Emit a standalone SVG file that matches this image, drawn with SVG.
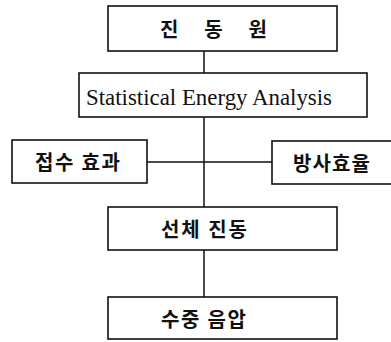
<svg xmlns="http://www.w3.org/2000/svg" width="391" height="342" viewBox="0 0 391 342">
<style>
.box{fill:#fff;stroke:#111;stroke-width:1.6}
.ko{font-family:"Noto Sans CJK KR","Noto Sans",sans-serif;font-weight:bold;font-size:20px;fill:#111}
.en{font-family:"Liberation Serif","DejaVu Serif",serif;font-size:24px;fill:#111}
.ln{stroke:#111;stroke-width:1.5;fill:none}
</style>
<rect width="391" height="342" fill="#fff"/>
<g id="connectors">
<line class="ln" x1="204" y1="51" x2="204" y2="73"/>
<line class="ln" x1="204" y1="117" x2="204" y2="207"/>
<line class="ln" x1="147" y1="162" x2="272" y2="162"/>
<line class="ln" x1="204" y1="250" x2="204" y2="297"/>
</g>
<g id="n1">
<rect class="box" x="108" y="6" width="229" height="45"/>
<text class="ko" x="160" y="37" textLength="107" lengthAdjust="spacing">진 동 원</text>
</g>
<g id="n2">
<rect class="box" x="79" y="73" width="288" height="44"/>
<text class="en" x="86" y="105" textLength="246" lengthAdjust="spacingAndGlyphs">Statistical Energy Analysis</text>
</g>
<g id="n3">
<rect class="box" x="12" y="140" width="135" height="43"/>
<text class="ko" x="35" y="170" textLength="85" lengthAdjust="spacing">접수 효과</text>
</g>
<g id="n4">
<rect class="box" x="272" y="141" width="122" height="43"/>
<text class="ko" x="293" y="171" textLength="77" lengthAdjust="spacing">방사효율</text>
</g>
<g id="n5">
<rect class="box" x="108" y="207" width="229" height="43"/>
<text class="ko" x="161" y="237" textLength="86" lengthAdjust="spacing">선체 진동</text>
</g>
<g id="n6">
<rect class="box" x="108" y="297" width="229" height="42"/>
<text class="ko" x="161" y="327" textLength="85" lengthAdjust="spacing">수중 음압</text>
</g>
</svg>
